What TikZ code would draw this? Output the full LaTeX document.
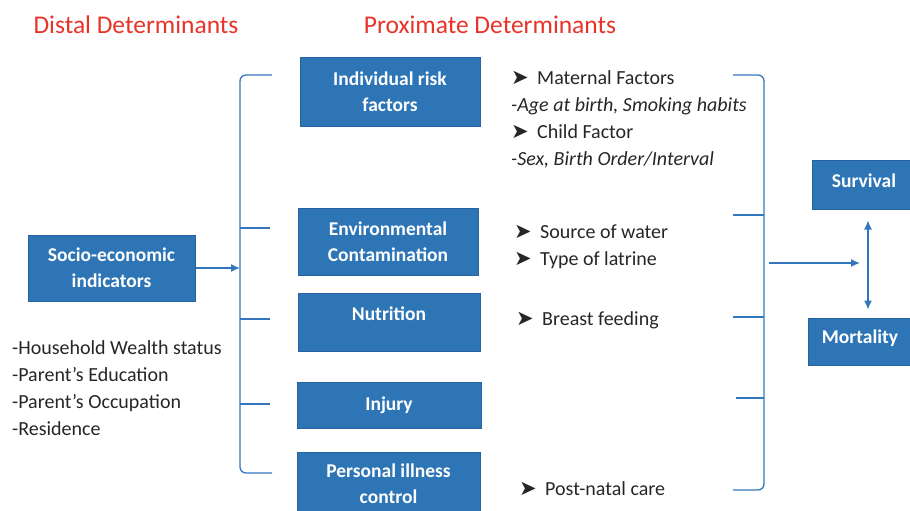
\documentclass[tikz,border=0pt]{standalone}
\usepackage{fontspec}
\setmainfont{Carlito}
\newfontfamily\symfont{DejaVu Sans}
\usetikzlibrary{arrows.meta}
\definecolor{boxblue}{RGB}{46,117,182}
\definecolor{boxedge}{RGB}{38,98,158}
\definecolor{linkblue}{RGB}{52,118,190}
\definecolor{titlered}{RGB}{232,52,40}
\tikzset{box/.style={rectangle,draw=boxedge,line width=1pt,fill=boxblue,text=white,align=center,inner sep=0pt,font=\bfseries\fontsize{19.5}{26}\selectfont}}
\tikzset{title/.style={text=titlered,font=\fontsize{25.5}{28}\selectfont}}
\tikzset{list/.style={align=left,anchor=north west,inner sep=0pt,text=black!85,font=\fontsize{20}{27}\selectfont}}
\tikzset{link/.style={draw=linkblue,line width=1.3pt}}
\tikzset{tip/.style={-{Latex[length=9pt,width=8pt]}}}
\tikzset{bothtips/.style={{Latex[length=9pt,width=8pt]}-{Latex[length=9pt,width=8pt]}}}
\newcommand{\bul}{\makebox[26pt][l]{\symfont\fontsize{21}{21}\selectfont ➤}}
\newcommand{\up}[2]{\raisebox{#1}[\height][\depth]{#2}}

\begin{document}
\begin{tikzpicture}[x=1pt,y=-1pt]
\clip (0,0) rectangle (910,511);
% headings
\node[title](distal) at (136,25) {Distal Determinants};
\node[title](proximate) at (490,25) {Proximate Determinants};

% determinant boxes
\node[box,minimum width=167pt,minimum height=66pt](socio) at (111.5,268) {Socio-economic\\indicators};
\node[box,minimum width=180pt,minimum height=68pt](indiv) at (390,92) {Individual risk\\factors};
\node[box,minimum width=180pt,minimum height=67pt](env) at (388,241.5) {Environmental\\Contamination};
\node[box,minimum width=182pt,minimum height=58pt](nutr) at (389,322) {\up{8pt}{Nutrition}};
\node[box,minimum width=184pt,minimum height=46pt](injury) at (389,405) {Injury};
\node[box,minimum width=183pt,minimum height=64pt](illness) at (388.5,484) {Personal illness\\control};

% outcomes
\node[box,minimum width=104pt,minimum height=49pt](survival) at (864,184.5) {\up{4pt}{Survival}};
\node[box,minimum width=104pt,minimum height=47pt](mortality) at (860,341.5) {\up{3pt}{Mortality}};

% lists
\node[list](sociotext) at (12,340) {-Household Wealth status\\-Parent's Education\\-Parent's Occupation\\-Residence};
\node[list](indivtext) at (511,70) {\bul Maternal Factors\\\textit{-Age at birth, Smoking habits}\\\bul Child Factor\\\textit{-Sex, Birth Order/Interval}};
\node[list](envtext) at (514,225) {\bul Source of water\\\bul Type of latrine};
\node[list](nutrtext) at (516,311) {\bul Breast feeding};
\node[list](illtext) at (519,481) {\bul Post-natal care};

% left bracket
\coordinate (lspine) at (240,0);
\coordinate (ltop) at (272,75);
\coordinate (lbot) at (272,473);
\coordinate (lenv) at (270,228);
\coordinate (lnutr) at (270,319);
\coordinate (linj) at (270,404);
\draw[link,rounded corners=6pt] (ltop) -| (lspine |- lbot) -- (lbot);
\draw[link] (lenv) -- (lenv -| lspine);
\draw[link] (lnutr) -- (lnutr -| lspine);
\draw[link] (linj) -- (linj -| lspine);
\draw[link,tip] (socio) -- (socio -| lspine);

% right bracket
\coordinate (rspine) at (764,0);
\coordinate (rtop) at (733,75);
\coordinate (rbot) at (733,490);
\coordinate (renv) at (733,215);
\coordinate (rnutr) at (733,317);
\coordinate (rinj) at (736,398);
\draw[link,rounded corners=6pt] (rtop) -| (rspine |- rbot) -- (rbot);
\draw[link] (renv) -- (renv -| rspine);
\draw[link] (rnutr) -- (rnutr -| rspine);
\draw[link] (rinj) -- (rinj -| rspine);

% to the outcomes
\coordinate (rout) at (860,263);
\coordinate (vaxis) at (868,0);
\draw[link,tip] ([xshift=5pt]rout -| rspine) -- (rout);
\draw[link,bothtips,shorten <=11pt,shorten >=8pt] (survival.south -| vaxis) -- (mortality.north -| vaxis);
\end{tikzpicture}
\end{document}
